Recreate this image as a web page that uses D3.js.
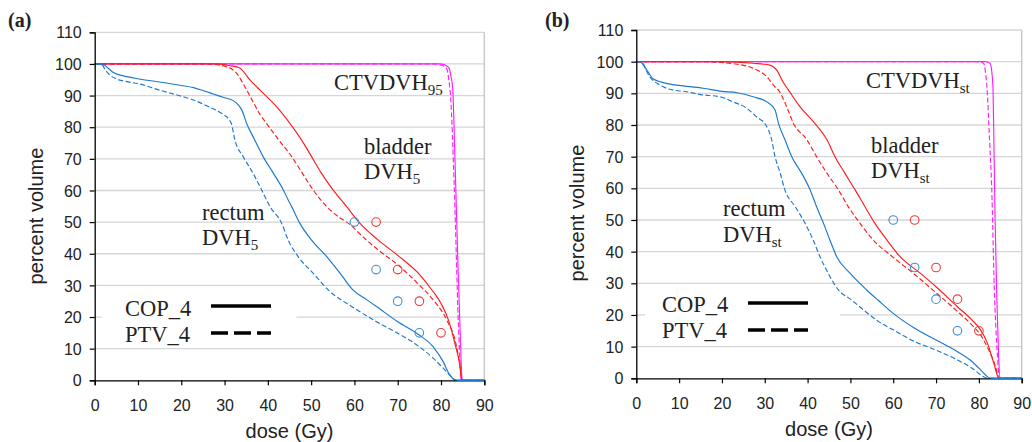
<!DOCTYPE html>
<html>
<head>
<meta charset="utf-8">
<script src="https://cdn.jsdelivr.net/npm/d3@7"></script>
<style>
  html, body { margin: 0; padding: 0; background: #fff; }
  svg { display: block; }
</style>
</head>
<body>
<svg id="chart" width="1032" height="442"></svg>
<script>
// ---------- data ----------
const doseTicks = [0, 10, 20, 30, 40, 50, 60, 70, 80, 90];
const volumeTicks = [0, 10, 20, 30, 40, 50, 60, 70, 80, 90, 100, 110];
const xLabel = "dose (Gy)";
const yLabel = "percent volume";
const legendNames = ["COP_4", "PTV_4"];

// objective markers [dose, percent volume]
const rectumMarkers = [[60, 50], [65, 35], [70, 25], [75, 15]];
const bladderMarkers = [[65, 50], [70, 35], [75, 25], [80, 15]];

// panel (a)
const aRectumCOP = [[0,100],[2,99.8],[3,98.8],[4.3,97.3],[7.4,96],[10,95.3],[15,94.3],[20,93.2],[22.8,92.5],[25,91.6],[27.4,90.5],[30,89.3],[32,88.4],[33.2,87],[34,85.4],[35.1,81.2],[37,75.9],[38.9,70.7],[41.3,65.4],[43.6,60.1],[44.7,57],[45.5,54.9],[47.4,49.6],[50.1,44.3],[53.6,39.1],[56.7,33.8],[59.7,28.5],[62.8,25.5],[65.1,23.3],[70,18.5],[75,14.3],[78.2,10.6],[80.5,5.9],[82,1.7],[83.6,0],[90,0]];
const aRectumPTV = [[0,100],[1.6,99.8],[2.5,98],[3.5,96.5],[5,95.3],[7.4,94.4],[10,93.8],[15,91.7],[20,89.8],[22.8,88.6],[26.6,86.3],[29.7,84],[31,82.5],[31.6,81],[32.4,75.9],[34.3,70.7],[36.6,65.4],[38.6,60.1],[40.5,54.9],[43.2,49.6],[44.7,44.3],[47,39.1],[50.5,33.8],[54,28.5],[60,22.8],[65.1,18.5],[70,14.9],[75,10.6],[78.2,7],[81.3,2.7],[82.8,0.6],[83.3,0],[90,0]];
const aBladderCOP = [[0,100],[28,100],[31,99.5],[33.4,98.8],[35.9,94.9],[38.2,91.7],[42,86.5],[45.1,81.2],[47.8,75.9],[50.1,70.7],[52.4,65.4],[55.1,60.1],[58.2,54.9],[61.3,49.6],[65.5,44.3],[70,39.5],[75,33.5],[78.2,28],[80,24.3],[81.7,19.1],[83.2,11.7],[84.4,4.3],[84.8,0],[90,0]];
const aBladderPTV = [[0,100],[25.5,100],[30.5,99.1],[32.8,97],[34.7,92.8],[36.6,88],[38.2,84],[39.7,81.2],[42.5,76],[45.5,70.7],[48,65.4],[50.5,60.1],[53.6,54.9],[56,52],[58.6,49.6],[62.8,44.3],[65.5,41.2],[70,36.5],[75,30.1],[78.2,25.4],[81.3,19.1],[83.6,10.6],[84.4,4.3],[84.8,0],[90,0]];
const aCtvCOP = [[0,100],[79.8,100],[81.3,99.4],[81.9,98.6],[82.3,96],[82.7,92.3],[83.2,71.2],[83.85,39.6],[84.5,12],[84.9,0],[90,0]];
const aCtvPTV = [[0,100],[78.5,100],[80.5,99.4],[81.3,98.6],[81.8,95],[82.2,90],[83.07,60.7],[84,18.5],[84.5,3],[84.7,0],[90,0]];

// panel (b)
const bRectumCOP = [[0,100],[0.9,100],[1.6,99],[2.5,97.3],[4,94.5],[7.9,92.9],[10,92.5],[15.6,91.6],[20,90.6],[23.5,90.2],[27.3,88.9],[30.5,87.3],[32.4,84.7],[33.2,80.5],[34.7,75.4],[36.3,70],[38.6,64.8],[40.6,59.5],[42.1,54.2],[43.7,49],[45.2,43.7],[46.8,38.4],[49.9,33.2],[53.8,27.9],[56.6,24.5],[60,20.5],[65,15.8],[70,12.1],[75,8.4],[78.4,5.3],[80.8,2.1],[82,0.5],[82.7,0],[90,0]];
const bRectumPTV = [[0,100],[1.4,99.8],[2.2,97.5],[3.2,95.2],[5.5,92.6],[8,91.2],[11.8,90.5],[15,89.6],[19.6,88.9],[22.6,87.3],[25.8,85.3],[28.3,82.3],[30.1,80.3],[31.6,75.4],[32.4,70],[33.6,64.8],[34.7,59.5],[37.1,54.2],[39.4,49],[41.3,43.7],[42.9,38.4],[44.8,33.2],[47.2,27.9],[50,25],[53.5,21.1],[56.6,17.9],[60,15.3],[65,11.6],[70,8.9],[75,5.8],[78.4,3.2],[81.1,0.5],[82,0],[90,0]];
const bBladderCOP = [[0,100],[20,100],[27.3,99.5],[31.2,98.9],[32.8,97.3],[34.3,93.5],[35.5,91.1],[38.2,85.8],[41.7,80.5],[44.5,75.4],[46.4,70],[48.7,64.8],[51.1,59.5],[53.4,54.2],[55.7,49],[58.5,43.7],[61.6,38.4],[66.3,33.2],[70,28.9],[75,22.6],[78.4,18.4],[80.4,15.3],[82,11.1],[83.5,4.7],[84.7,0],[90,0]];
const bBladderPTV = [[0,100],[15,100],[23.5,99.2],[27.3,97.9],[30.5,95.2],[32.4,92],[33.2,91],[35.1,85.8],[36.7,80.5],[39.8,75.4],[42.1,70],[44.5,64.8],[47.2,59.5],[49.5,54.2],[52.2,49],[55.3,43.7],[60,38.2],[65,32.8],[70,27],[75,21.1],[78.4,16.8],[80.4,13.7],[82.3,8.9],[83.9,3.7],[84.7,0],[90,0]];
const bCtvCOP = [[0,100],[81.5,100],[82.6,99.5],[83,97],[83.3,91.6],[83.5,75],[83.8,49.5],[84.2,25],[84.6,7.4],[85,0],[90,0]];
const bCtvPTV = [[0,100],[80,100],[81.1,99.5],[81.5,97],[81.9,91.6],[82.5,75],[83,60],[83.6,28.4],[84.3,8],[84.8,0],[90,0]];

// ---------- styles ----------
const BLUE = "#1b78cf", RED = "#ff1c1c", MAGENTA = "#ff1eff";
const BLUE_M = "#3b8fd6", RED_M = "#f03a3a";
const SERIF = "'Liberation Serif', 'Times New Roman', serif";
const SANS = "'Liberation Sans', Arial, sans-serif";
const LW = 1.15;

const svg = d3.select("#chart");

const panels = [
  {
    tag: "(a)", tagX: 8, tagY: 27,
    x0: 94.7, x1: 484.3, y0: 380.3, y1: 32.3,
    yTitleX: 43, yTitleY: 216, xTitleY: 438, xTickY: 411,
    series: { rc: aRectumCOP, rp: aRectumPTV, bc: aBladderCOP, bp: aBladderPTV, cc: aCtvCOP, cp: aCtvPTV },
    sub: "5", ctvSub: "95",
    ctv: [334, 90], bladder: [364, 154, 179], rectum: [202, 220, 245],
    legend: { boxX: 101.5, boxW: 195, boxY: 289, boxH: 56, textX: 125, y1: 316, y2: 342, lx0: 211, lx1: 271, ly1: 306, ly2: 333 }
  },
  {
    tag: "(b)", tagX: 545, tagY: 27,
    x0: 636.3, x1: 1021.7, y0: 378.3, y1: 30,
    yTitleX: 584, yTitleY: 213, xTitleY: 436, xTickY: 409,
    series: { rc: bRectumCOP, rp: bRectumPTV, bc: bBladderCOP, bp: bBladderPTV, cc: bCtvCOP, cp: bCtvPTV },
    sub: "st", ctvSub: "st",
    ctv: [866, 88], bladder: [871, 153, 178], rectum: [723, 216, 242],
    legend: { boxX: 645, boxW: 195, boxY: 287, boxH: 56, textX: 662, y1: 312, y2: 338, lx0: 748, lx1: 808, ly1: 303, ly2: 330 }
  }
];

panels.forEach(p => {
  const x = d3.scaleLinear().domain([0, 90]).range([p.x0, p.x1]);
  const y = d3.scaleLinear().domain([0, 110]).range([p.y0, p.y1]);
  const g = svg.append("g");

  // gridlines
  g.append("g").selectAll("line").data(volumeTicks.filter(v => v > 0)).join("line")
    .attr("x1", x(0)).attr("x2", x(90))
    .attr("y1", d => y(d)).attr("y2", d => y(d))
    .attr("stroke", "#d6d6d6").attr("stroke-width", 1.3);
  // right frame
  g.append("line").attr("x1", x(90)).attr("x2", x(90)).attr("y1", y(0)).attr("y2", y(110))
    .attr("stroke", "#c4c4c4").attr("stroke-width", 1.3);

  // legend background
  const L = p.legend;
  g.append("rect").attr("x", L.boxX).attr("y", L.boxY).attr("width", L.boxW).attr("height", L.boxH)
    .attr("fill", "#fff");

  // curves
  const line = d3.line().x(d => x(d[0])).y(d => y(d[1])).curve(d3.curveMonotoneX);
  const curves = [
    { d: p.series.cp, c: MAGENTA, dash: "5,2.5" },
    { d: p.series.cc, c: MAGENTA, dash: null },
    { d: p.series.bp, c: RED, dash: "5,2.5" },
    { d: p.series.bc, c: RED, dash: null },
    { d: p.series.rp, c: BLUE, dash: "5,2.5" },
    { d: p.series.rc, c: BLUE, dash: null }
  ];
  curves.forEach(s => {
    g.append("path").attr("d", line(s.d)).attr("fill", "none")
      .attr("stroke", s.c).attr("stroke-width", LW)
      .attr("stroke-dasharray", s.dash);
  });

  // markers
  g.append("g").selectAll("circle").data(rectumMarkers).join("circle")
    .attr("cx", d => x(d[0])).attr("cy", d => y(d[1])).attr("r", 4.3)
    .attr("fill", "none").attr("stroke", BLUE_M).attr("stroke-width", 1.1);
  g.append("g").selectAll("circle").data(bladderMarkers).join("circle")
    .attr("cx", d => x(d[0])).attr("cy", d => y(d[1])).attr("r", 4.3)
    .attr("fill", "none").attr("stroke", RED_M).attr("stroke-width", 1.1);

  // axes
  const xAxis = d3.axisBottom(x).tickValues(doseTicks).tickSize(5).tickPadding(8);
  const yAxis = d3.axisLeft(y).tickValues(volumeTicks).tickSize(5).tickPadding(8);
  const gx = g.append("g").attr("transform", `translate(0,${p.y0})`).call(xAxis);
  const gy = g.append("g").attr("transform", `translate(${p.x0},0)`).call(yAxis);
  [gx, gy].forEach(a => {
    a.select(".domain").attr("stroke", "#000").attr("stroke-width", 1.3);
    a.selectAll(".tick line").attr("stroke", "#000").attr("stroke-width", 1.2);
    a.selectAll(".tick text").attr("font-family", SANS).attr("font-size", 16).attr("fill", "#222");
  });
  gx.selectAll(".tick text").attr("dy", null).attr("y", p.xTickY - p.y0);
  gy.selectAll(".tick text").attr("dy", "0.35em");
  // redraw bottom part of blue line on top of x axis
  g.append("path").attr("d", line(p.series.rc.filter(d => d[1] === 0)))
    .attr("fill", "none").attr("stroke", BLUE).attr("stroke-width", 1.4);

  // axis titles
  g.append("text").attr("x", (p.x0 + p.x1) / 2).attr("y", p.xTitleY)
    .attr("text-anchor", "middle").attr("font-family", SANS).attr("font-size", 20).attr("fill", "#222")
    .text(xLabel);
  g.append("text").attr("transform", `translate(${p.yTitleX},${p.yTitleY}) rotate(-90)`)
    .attr("text-anchor", "middle").attr("font-family", SANS).attr("font-size", 20).attr("fill", "#222")
    .text(yLabel);

  // panel tag
  g.append("text").attr("x", p.tagX).attr("y", p.tagY)
    .attr("font-family", SERIF).attr("font-weight", "bold").attr("font-size", 20).attr("fill", "#222")
    .text(p.tag);

  // curve labels
  const lab = (xx, yy, main, sub) => {
    const t = g.append("text").attr("x", xx).attr("y", yy)
      .attr("font-family", SERIF).attr("font-size", 22.5).attr("fill", "#222");
    t.append("tspan").text(main);
    if (sub) t.append("tspan").attr("font-size", 15).attr("dy", 5).text(sub);
  };
  lab(p.ctv[0], p.ctv[1], "CTVDVH", p.ctvSub);
  lab(p.bladder[0], p.bladder[1], "bladder", null);
  lab(p.bladder[0], p.bladder[2], "DVH", p.sub);
  lab(p.rectum[0], p.rectum[1], "rectum", null);
  lab(p.rectum[0], p.rectum[2], "DVH", p.sub);

  // legend
  g.append("text").attr("x", L.textX).attr("y", L.y1).attr("font-family", SERIF)
    .attr("font-size", 22.5).attr("fill", "#222").text(legendNames[0]);
  g.append("text").attr("x", L.textX).attr("y", L.y2).attr("font-family", SERIF)
    .attr("font-size", 22.5).attr("fill", "#222").text(legendNames[1]);
  g.append("line").attr("x1", L.lx0).attr("x2", L.lx1).attr("y1", L.ly1).attr("y2", L.ly1)
    .attr("stroke", "#000").attr("stroke-width", 3.5);
  g.append("line").attr("x1", L.lx0).attr("x2", L.lx1).attr("y1", L.ly2).attr("y2", L.ly2)
    .attr("stroke", "#000").attr("stroke-width", 3.5).attr("stroke-dasharray", "17,6");
});
</script>
</body>
</html>
